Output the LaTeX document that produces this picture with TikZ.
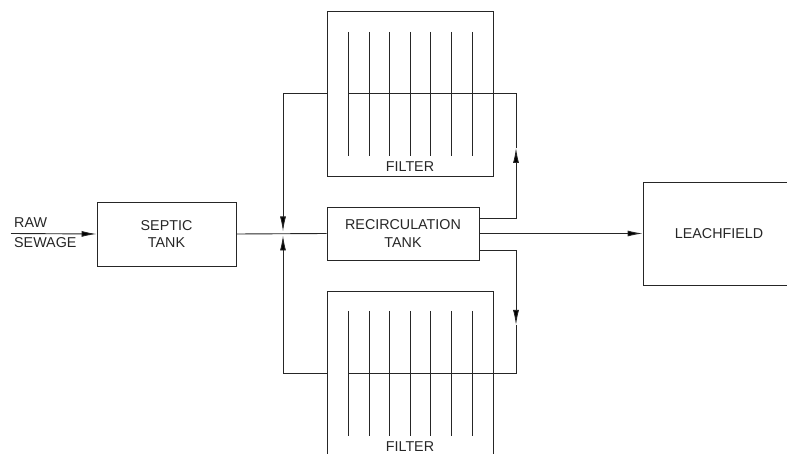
\documentclass[tikz,border=0pt]{standalone}
\usepackage{fontspec}
\setmainfont{Liberation Sans}
\usetikzlibrary{arrows.meta}
\newcommand\diaglbl{\fontsize{14.3}{17.5}\selectfont}
\begin{document}
\begin{tikzpicture}[x=1pt,y=1pt,
  ln/.style={line width=0.9pt, draw=black!85},
  box/.style={ln, rectangle, inner sep=0pt, align=center, font=\diaglbl, text=black!85},
  txt/.style={inner sep=0pt, font=\diaglbl, text=black!85},
  arr/.style={ln, arrows={-Latex[length=15pt,width=6pt,fill=black]}}]
\useasboundingbox (0,0) rectangle (787,-454);
\clip (0,0) rectangle (787,-454);
% boxes
\node[box, minimum width=139pt, minimum height=64pt] (septic) at (166.5,-234) {SEPTIC\\TANK};
\node[box, minimum width=152pt, minimum height=53pt] (rt) at (403,-233.5) {RECIRCULATION\\TANK};
\node[box, minimum width=166pt, minimum height=165pt] (ft) at (410,-93.5) {};
\node[box, minimum width=166pt, minimum height=165pt] (fb) at (410,-373.5) {};
\node[box, minimum width=152pt, minimum height=103pt] (lf) at (719,-233.5) {LEACHFIELD};
% filter media
\foreach \x in {348,369,389,410,430,451,472} {
  \draw[ln] (\x,-32) -- (\x,-156);
  \draw[ln] (\x,-311) -- (\x,-436);
}
\node[txt, anchor=base] (ftl) at (410,-172) {FILTER};
\node[txt, anchor=base] (fbl) at (410,-451.5) {FILTER};
% inlet labels
\node[txt, anchor=base west] (rawl) at (14,-228) {RAW};
\node[txt, anchor=base west] (sewl) at (14,-248) {SEWAGE};
% coordinates
\coordinate (raw) at (11,-233.5);
\coordinate (J) at (283,-233.5);
\coordinate (ta) at (516,-148);
\coordinate (tb) at (516,-93.5);
\coordinate (tc) at (348,-93.5);
\coordinate (ba) at (516,-325);
\coordinate (bb) at (516,-373.5);
\coordinate (bc) at (348,-373.5);
% connectors
\draw[arr] (raw) -- (septic.west);
\draw[ln] (septic.east) -- (rt.west);
\draw[arr, shorten >=2pt] (ft.west) -| (J);
\draw[arr, shorten >=2pt] (fb.west) -| (J);
\draw[arr] (rt.east |- 0,-218) -| (ta);
\draw[ln] (ta) -- (tb) -- (tc);
\draw[arr] (rt.east |- 0,-250) -| (ba);
\draw[ln] (ba) -- (bb) -- (bc);
\draw[arr] (rt.east) -- (lf.west);
\end{tikzpicture}
\end{document}
